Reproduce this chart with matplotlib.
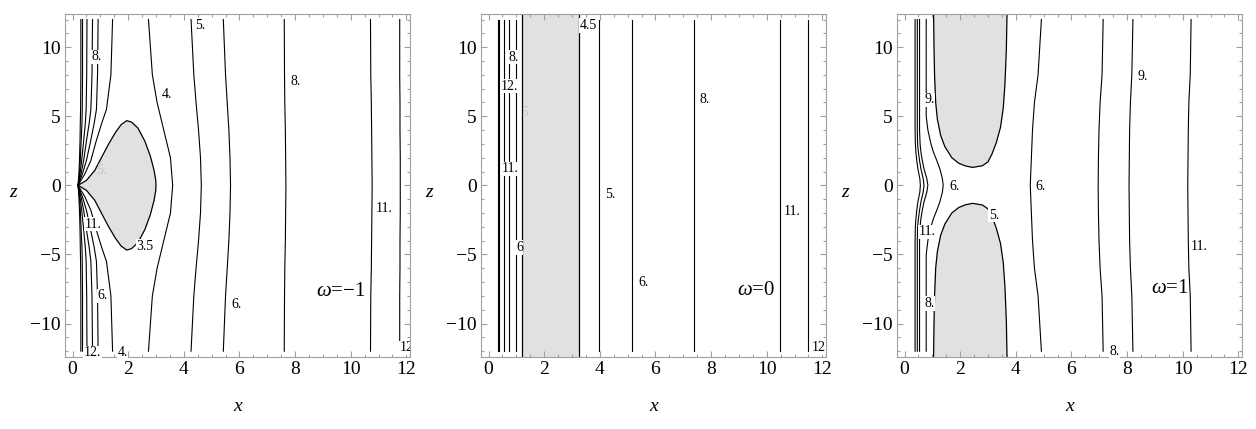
import matplotlib.pyplot as plt
from matplotlib.ticker import MultipleLocator

plt.rcParams['font.family'] = ['Liberation Serif', 'DejaVu Serif']
plt.rcParams['mathtext.fontset'] = 'custom'
plt.rcParams['mathtext.rm'] = 'Liberation Serif'
plt.rcParams['mathtext.it'] = 'Liberation Serif:italic'

# ---------------- values ----------------
omega_text = ['$\\omega$=\u22121', '$\\omega$=0', '$\\omega$=1']

# omega = -1: lines that fan out of the point (0.2, 0), x at heights z_fan (same for z<0)
z_fan = [12, 8, 5.5, 4.5, 3.2, 1.8, 0.85, 0]
fan_levels = [12, 11, 8, 6, 5, 4]
fan_x = [
    [0.30, 0.30, 0.29, 0.28, 0.27, 0.25, 0.23, 0.20],
    [0.36, 0.36, 0.35, 0.34, 0.31, 0.28, 0.25, 0.20],
    [0.52, 0.51, 0.49, 0.46, 0.40, 0.33, 0.27, 0.20],
    [0.72, 0.70, 0.66, 0.60, 0.50, 0.40, 0.31, 0.20],
    [0.92, 0.90, 0.86, 0.78, 0.65, 0.50, 0.36, 0.20],
    [1.44, 1.38, 1.22, 1.05, 0.85, 0.66, 0.45, 0.20],
]
# omega = -1: lines right of the lobe
z_far = [12, 8, 6, 4, 2, 0]
far_levels_m1 = [4, 5, 6, 8, 11, 12]
far_x_m1 = [
    [2.73, 2.87, 3.04, 3.28, 3.52, 3.60],
    [4.26, 4.36, 4.44, 4.53, 4.60, 4.63],
    [5.42, 5.50, 5.56, 5.62, 5.66, 5.68],
    [7.61, 7.62, 7.63, 7.65, 7.66, 7.67],
    [10.71, 10.72, 10.74, 10.75, 10.76, 10.77],
    [11.76, 11.76, 11.77, 11.77, 11.78, 11.78],
]
# omega = -1: grey lobe below level 3.5 (upper half)
lobe_x = [0.2, 0.5, 0.8, 1.05, 1.3, 1.55, 1.75, 1.95, 2.12, 2.35, 2.6, 2.8, 2.93, 2.99, 3.0]
lobe_z = [0, 0.36, 1.08, 2.05, 3.0, 3.85, 4.4, 4.68, 4.58, 4.15, 3.2, 2.1, 1.1, 0.4, 0]

# omega = 0: straight lines
levels_0 = [12, 11, 8, 6, 5, 4.5, 4.5, 5, 6, 8, 11, 12]
x_0 = [0.34, 0.38, 0.54, 0.75, 0.99, 1.2, 3.24, 3.96, 5.16, 7.37, 10.48, 11.5]
band_0 = [1.2, 3.24]

# omega = 1: left lines, x at heights z_near
z_near = [12, 5, 4, 3, 2.4, 1.8, 1.2, 0.5, 0]
near_levels = [11, 9, 8, 6]
near_x = [
    [0.38, 0.38, 0.38, 0.39, 0.41, 0.44, 0.48, 0.55, 0.57],
    [0.46, 0.46, 0.46, 0.47, 0.50, 0.54, 0.59, 0.67, 0.70],
    [0.54, 0.54, 0.54, 0.56, 0.59, 0.64, 0.70, 0.80, 0.84],
    [0.78, 0.78, 0.84, 0.95, 1.04, 1.16, 1.27, 1.36, 1.39],
]
far_levels_p1 = [6, 8, 9, 11]
far_x_p1 = [
    [4.92, 4.80, 4.67, 4.60, 4.56, 4.52],
    [7.14, 7.10, 7.03, 6.99, 6.97, 6.96],
    [8.21, 8.17, 8.12, 8.09, 8.08, 8.07],
    [10.30, 10.27, 10.22, 10.20, 10.19, 10.18],
]
# omega = 1: grey region below level 5 (upper part, mirrored below)
cap_x = [1.04, 1.06, 1.08, 1.12, 1.18, 1.3, 1.45, 1.7, 1.95, 2.2, 2.45,
         2.8, 3.0, 3.15, 3.3, 3.45, 3.55, 3.61, 3.66, 3.69]
cap_z = [13, 10, 8, 6, 4.8, 3.6, 2.8, 2.0, 1.6, 1.4, 1.3,
         1.42, 1.7, 2.3, 3.1, 4.2, 5.6, 7.35, 9.8, 13]

# contour labels (text, x, z)
labels_m1 = [('8.', 0.86, 9.3), ('4.', 3.39, 6.6), ('5.', 4.6, 11.6), ('8.', 8.03, 7.5),
             ('11.', 11.2, -1.7), ('3.5', 2.6, -4.4), ('11.', 0.74, -2.8), ('6.', 1.08, -8.0),
             ('6.', 5.9, -8.6), ('12.', 0.71, -12.1), ('4.', 1.8, -12.1)]
labels_0 = [('4.5', 3.58, 11.57), ('8.', 0.92, 9.28), ('12.', 0.75, 7.16), ('11.', 0.78, 1.2),
            ('5.', 4.36, -0.68), ('6', 1.11, -4.5), ('6.', 5.56, -7.06), ('8.', 7.77, 6.2),
            ('11.', 10.91, -1.86)]
labels_p1 = [('9.', 0.89, 6.2), ('6.', 1.79, -0.1), ('6.', 4.88, -0.1), ('5.', 3.21, -2.17),
             ('11.', 0.8, -3.37), ('8.', 0.9, -8.55), ('9.', 8.57, 7.88), ('11.', 10.6, -4.4),
             ('8.', 7.54, -12.05)]
faint_labels = [[('5.', 1.05, 1.08)], [('5', 1.31, 5.3)], []]
edge_labels = [[('12.', 11.76, -11.74)], [('12.', 11.6, -11.76)], []]
label_pos = [(9.65, -7.7), (9.62, -7.6), (9.52, -7.47)]

GREY = '#e1e1e1'
FRAME = '#a0a0a0'


def mirror(xs, zs):
    # line given from z=12 down to z=0, continue it symmetric to z=-12
    return list(xs) + list(xs[-2::-1]), list(zs) + [-v for v in zs[-2::-1]]


fig = plt.figure(figsize=(12.56, 4.29), dpi=100)
lefts = [65 / 1256, 481 / 1256, 897 / 1256]
axes = [fig.add_axes([l, 72 / 429, 345 / 1256, 343 / 429]) for l in lefts]

ax = axes[0]
lx, lz = mirror(lobe_x, lobe_z)
ax.fill(lx, lz, color=GREY, lw=0)
ax.plot(lx, lz, color='k', lw=0.9)
for xs in fan_x:
    px, pz = mirror(xs, z_fan)
    ax.plot(px, pz, color='k', lw=0.8)
for xs in far_x_m1:
    px, pz = mirror(xs, z_far)
    ax.plot(px, pz, color='k', lw=0.8)

ax = axes[1]
ax.axvspan(band_0[0], band_0[1], color=GREY, lw=0)
for lev, xv in zip(levels_0, x_0):
    if xv in band_0:
        ax.axvline(xv, color='k', lw=0.9)
    else:
        ax.plot([xv, xv], [-12, 12], color='k', lw=0.8)

ax = axes[2]
cx, cz = cap_x, cap_z
ax.fill(cx, cz, color=GREY, lw=0)
ax.fill(cx, [-v for v in cz], color=GREY, lw=0)
ax.plot(cx, cz, color='k', lw=0.9)
ax.plot(cx, [-v for v in cz], color='k', lw=0.9)
for xs in near_x:
    px, pz = mirror(xs, z_near)
    ax.plot(px, pz, color='k', lw=0.8)
for xs in far_x_p1:
    px, pz = mirror(xs, z_far)
    ax.plot(px, pz, color='k', lw=0.8)

for i, (ax, labs) in enumerate(zip(axes, [labels_m1, labels_0, labels_p1])):
    for s, x, z in labs:
        ax.text(x, z, s, fontsize=10, ha='center', va='center',
                bbox=dict(fc='white', ec='none', pad=0.4))
    for s, x, z in faint_labels[i]:
        ax.text(x, z, s, fontsize=10, ha='center', va='center', color='#c4c4c4')
    for s, x, z in edge_labels[i]:
        ax.text(x, z, s, fontsize=10, ha='left', va='center', clip_on=True,
                bbox=dict(fc='white', ec='none', pad=0.4))
    ax.text(label_pos[i][0], label_pos[i][1], omega_text[i], fontsize=15,
            ha='center', va='center')

    ax.set_xlim(-0.27, 12.13)
    ax.set_ylim(-12.42, 12.4)
    ax.xaxis.set_major_locator(MultipleLocator(2))
    ax.xaxis.set_minor_locator(MultipleLocator(0.5))
    ax.yaxis.set_major_locator(MultipleLocator(5))
    ax.yaxis.set_minor_locator(MultipleLocator(1))
    ax.tick_params(which='both', direction='in', top=True, right=True,
                   color=FRAME, labelsize=14, width=0.8)
    ax.tick_params(which='major', length=4.5, pad=3)
    ax.tick_params(which='minor', length=2.2)
    for sp in ax.spines.values():
        sp.set_color(FRAME)
        sp.set_linewidth(0.8)
    ax.set_xlabel('x', fontsize=14, style='italic', va='center')
    ax.xaxis.set_label_coords(0.5, -0.143)
    ax.set_ylabel('z', fontsize=14, style='italic', rotation=0, va='center')
    ax.yaxis.set_label_coords(-0.152, 0.479)

fig.savefig('out.png', dpi=100)
